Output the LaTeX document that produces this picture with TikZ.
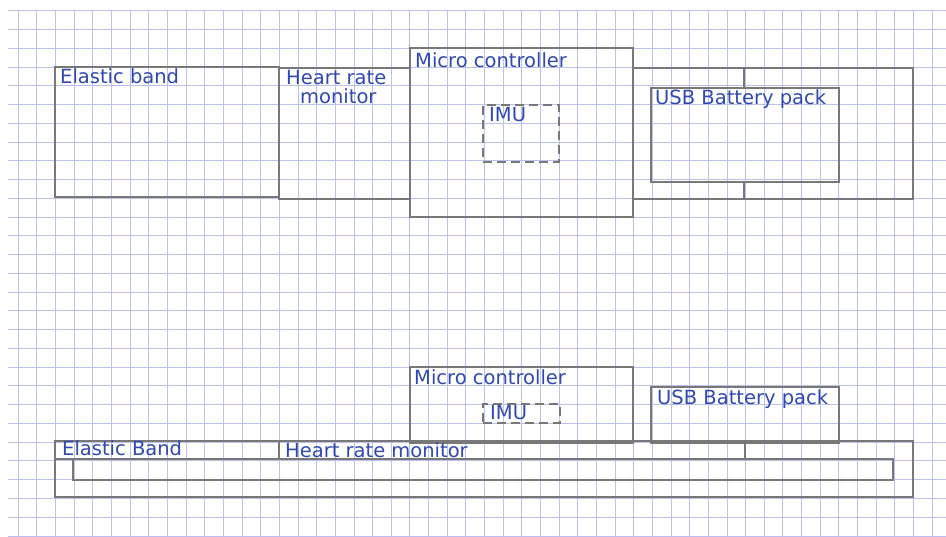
\documentclass[tikz,border=0pt]{standalone}
\usepackage{fontspec}
\setmainfont{DejaVu Sans}
\definecolor{gridc}{RGB}{188,192,238}
\definecolor{pencil}{RGB}{120,120,120}
\definecolor{ink}{RGB}{48,72,175}
\begin{document}
\begin{tikzpicture}[x=1pt,y=-1pt,
  box/.style={draw=pencil, line width=2.2pt, inner sep=0pt, outer sep=0pt, anchor=north west},
  dbox/.style={box, dash pattern=on 9pt off 5pt},
  lbl/.style={text=ink, font=\fontsize{19.5}{22}\selectfont, anchor=base west, inner sep=0pt},
  strap/.style={draw=pencil, line width=2.2pt},
  gridline/.style={draw=gridc, line width=1pt}]
\fill[white] (0,0) rectangle (946,537);
\useasboundingbox (0,0) rectangle (946,537);
% graph paper
\foreach \k in {0,...,49} \draw[gridline] ({18.3+18.65*\k},11) -- ({18.3+18.65*\k},537);
\foreach \k in {0,...,28} \draw[gridline] (8,{11+18.75*\k}) -- (946,{11+18.75*\k});

% ---------- top diagram ----------
\node[box, minimum width=224pt, minimum height=130pt] (eb) at (55,67) {};
\node[box, minimum width=131pt, minimum height=131pt] (hrm) at (279,68) {};
\node[box, minimum width=223pt, minimum height=169pt] (mc) at (410,48) {};
\node[dbox, minimum width=76pt, minimum height=57pt] (imu) at (483,105) {};
\node[box, minimum width=280pt, minimum height=131pt] (holder) at (633,68) {};
\node[box, minimum width=188pt, minimum height=94pt] (usb) at (651,88) {};
\coordinate (s1) at (744,0);
\draw[strap] (s1 |- holder.north) -- (s1 |- usb.north);
\draw[strap] (s1 |- usb.south) -- (s1 |- holder.south);

\node[lbl] (ebl) at (60,84) {Elastic band};
\node[lbl] (hrl) at (286,85) {Heart rate};
\node[lbl] (hrl2) at (300,104) {monitor};
\node[lbl] (mcl) at (415,68) {Micro controller};
\node[lbl] (imul) at (489,122) {IMU};
\node[lbl] (usbl) at (655,105) {USB Battery pack};

% ---------- bottom diagram ----------
\node[box, minimum width=223pt, minimum height=76pt] (mc2) at (410,367) {};
\node[dbox, minimum width=77pt, minimum height=19pt] (imu2) at (483,404) {};
\node[box, minimum width=188pt, minimum height=56pt] (usb2) at (651,387) {};
\node[box, minimum width=858pt, minimum height=56pt] (band) at (55,441) {};
\node[box, minimum width=224pt, minimum height=18pt] (ebs) at (55,441) {};
\node[box, minimum width=466pt, minimum height=18pt] (hrs) at (279,441) {};
\node[box, minimum width=820pt, minimum height=21pt] (inner) at (73,459) {};

\node[lbl] (mcl2) at (414,385) {Micro controller};
\node[lbl] (imul2) at (490,420) {IMU};
\node[lbl] (usbl2) at (657,405) {USB Battery pack};
\node[lbl] (ebl2) at (62,456) {Elastic Band};
\node[lbl] (hrl3) at (285,457) {Heart rate monitor};
\end{tikzpicture}
\end{document}
